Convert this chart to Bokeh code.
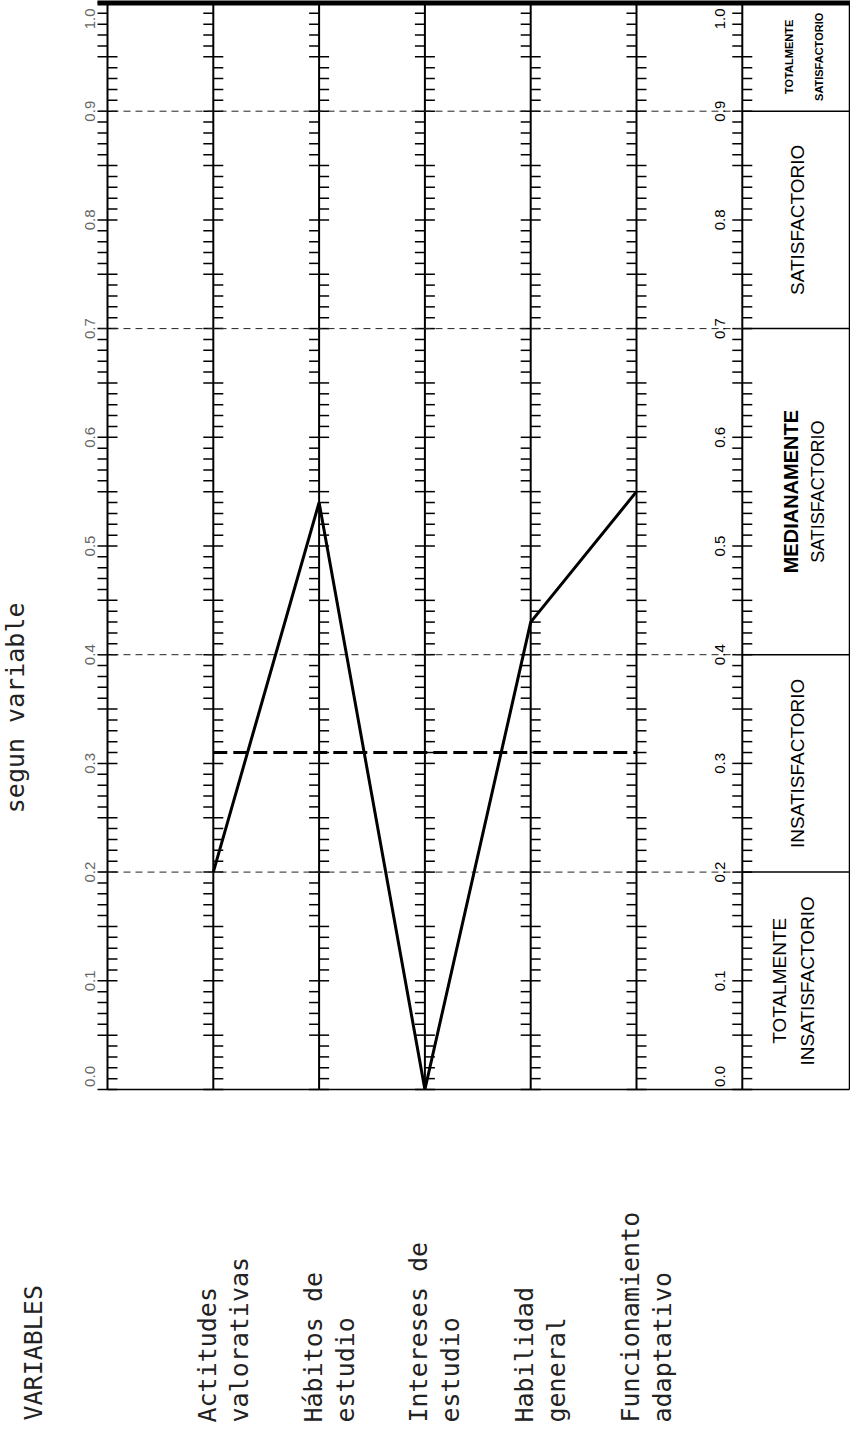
import math
from bokeh.plotting import figure
from bokeh.models import Range1d
from bokeh.core.properties import value
from bokeh.embed import file_html
from bokeh.resources import INLINE

# ---------------- data ----------------
var_line1 = ["Actitudes", "Hábitos de", "Intereses de", "Habilidad", "Funcionamiento"]
var_line2 = ["valorativas", "estudio", "estudio", "general", "adaptativo"]
scores = [0.20, 0.54, 0.00, 0.43, 0.55]
mean_score = 0.31
scale_values = [0.0, 0.1, 0.2, 0.3, 0.4, 0.5, 0.6, 0.7, 0.8, 0.9, 1.0]
scale_labels = ["0.0", "0.1", "0.2", "0.3", "0.4", "0.5", "0.6", "0.7", "0.8", "0.9", "1.0"]
band_edges = [0.0, 0.2, 0.4, 0.7, 0.9, 1.0]
band_line1 = ["TOTALMENTE", "", "MEDIANAMENTE", "", "TOTALMENTE"]
band_line2 = ["INSATISFACTORIO", "INSATISFACTORIO", "SATISFACTORIO", "SATISFACTORIO", "SATISFACTORIO"]
title_text = "segun variable"
header_text = "VARIABLES"

# ---------------- layout (image pixel geometry) ----------------
W, H = 850, 1423
AX0_PX = 115.0      # image x of the left scale axis
SLOT_PX = 105.8     # spacing between vertical axes
ZERO_PX = 1097.0    # image y of value 0
UNIT_PX = 1087.0    # pixels per 1.0 of value


def sx(ix):
    return (ix - AX0_PX) / SLOT_PX


def sy(iy):
    return (ZERO_PX - iy) / UNIT_PX


p = figure(width=W, height=H, output_backend="svg", toolbar_location=None,
           x_range=Range1d(sx(8), sx(858)), y_range=Range1d(sy(1431), sy(8)),
           x_axis_type=None, y_axis_type=None, min_border=0)
p.grid.visible = False
p.outline_line_color = None
p.background_fill_color = "white"
p.border_fill_color = "white"

n_axes = len(var_line1) + 2
axis_slots = list(range(n_axes))
var_slots = list(range(1, len(var_line1) + 1))
right_slot = n_axes - 1
box_right = sx(857)

# vertical axes
p.segment(x0=axis_slots, y0=[0.0] * n_axes, x1=axis_slots, y1=[1.0] * n_axes,
          line_color="black", line_width=2)

# tick marks every 0.01, alternating sides every 0.05
tick_len = 10.0 / SLOT_PX
tx0, tx1, ty = [], [], []
for s in axis_slots:
    for n in range(0, 101):
        m = n % 10
        left = m >= 5 or m == 0
        right = m <= 5
        tx0.append(s - (tick_len if left else 0.0))
        tx1.append(s + (tick_len if right else 0.0))
        ty.append(n / 100.0)
p.segment(x0=tx0, y0=ty, x1=tx1, y1=ty, line_color="black", line_width=1.5)

# dashed category gridlines across the chart, solid across the box column
inner = band_edges[1:-1]
p.segment(x0=[sx(107)] * len(inner), y0=inner, x1=[right_slot] * len(inner), y1=inner,
          line_color="#222222", line_width=1, line_dash="7 5")
p.segment(x0=[right_slot] * len(inner), y0=inner, x1=[box_right] * len(inner), y1=inner,
          line_color="black", line_width=1.5)

# frame: thick top, bottom baseline, right edge of box column
p.segment(x0=[sx(105)], y0=[1.0], x1=[sx(858)], y1=[1.0], line_color="black", line_width=6)
p.segment(x0=[0], y0=[0.0], x1=[box_right], y1=[0.0], line_color="black", line_width=1.5)
p.segment(x0=[box_right], y0=[0.0], x1=[box_right], y1=[1.0], line_color="black", line_width=1.5)

# profile line and mean line
p.line(x=var_slots, y=scores, line_color="black", line_width=3)
p.line(x=[var_slots[0], var_slots[-1]], y=[mean_score, mean_score], line_color="black",
       line_width=3, line_dash="14 6")

# scale labels (left faint scale, right scale)
lab_y = [min(max(v, 0.012), 0.985) for v in scale_values]
p.text(x=[sx(97)] * len(scale_values), y=lab_y, text=scale_labels, angle=math.pi / 2,
       text_align="center", text_baseline="middle", text_font=value("Liberation Sans"),
       text_font_size="15px", text_color="#666666")
p.text(x=[sx(727)] * len(scale_values), y=lab_y, text=scale_labels, angle=math.pi / 2,
       text_align="center", text_baseline="middle", text_font=value("Liberation Sans"),
       text_font_size="15px", text_color="black")

# category box texts
mids = [(band_edges[i] + band_edges[i + 1]) / 2 for i in range(len(band_line2))]
sans = value("Liberation Sans")
p.text(x=[sx(787), sx(815)], y=[mids[0], mids[0]], text=[band_line1[0], band_line2[0]],
       angle=math.pi / 2, text_align="center", text_baseline="middle",
       text_font=sans, text_font_size="19px", text_color="black")
p.text(x=[sx(805)], y=[mids[1]], text=[band_line2[1]], angle=math.pi / 2,
       text_align="center", text_baseline="middle", text_font=sans,
       text_font_size="19px", text_color="black")
p.text(x=[sx(798)], y=[mids[2]], text=[band_line1[2]], angle=math.pi / 2,
       text_align="center", text_baseline="middle", text_font=sans,
       text_font_size="20px", text_font_style="bold", text_color="black")
p.text(x=[sx(825)], y=[mids[2]], text=[band_line2[2]], angle=math.pi / 2,
       text_align="center", text_baseline="middle", text_font=sans,
       text_font_size="18px", text_color="black")
p.text(x=[sx(805)], y=[mids[3]], text=[band_line2[3]], angle=math.pi / 2,
       text_align="center", text_baseline="middle", text_font=sans,
       text_font_size="19px", text_color="black")
p.text(x=[sx(796), sx(826)], y=[mids[4], mids[4]], text=[band_line1[4], band_line2[4]],
       angle=math.pi / 2, text_align="center", text_baseline="middle",
       text_font=sans, text_font_size="11px", text_font_style="bold",
       text_color="black")

# variable labels (two lines each, reading upward)
mono = value("DejaVu Sans Mono")
p.text(x=[s - 6.0 / SLOT_PX for s in var_slots], y=[sy(1430)] * len(var_slots), text=var_line1,
       angle=math.pi / 2, text_align="left", text_baseline="middle", text_font=mono,
       text_font_size="25px", text_color="#222222")
p.text(x=[s + 26.0 / SLOT_PX for s in var_slots], y=[sy(1430)] * len(var_slots), text=var_line2,
       angle=math.pi / 2, text_align="left", text_baseline="middle", text_font=mono,
       text_font_size="25px", text_color="#222222")
p.text(x=[sx(41)], y=[sy(1428)], text=[header_text], angle=math.pi / 2, text_align="left",
       text_baseline="middle", text_font=mono, text_font_size="25px", text_color="#222222")
p.text(x=[sx(23)], y=[sy(610)], text=[title_text], angle=math.pi / 2, text_align="right",
       text_baseline="middle", text_font=mono, text_font_size="25px", text_color="#222222")

open("out.html", "w").write(file_html(p, INLINE))
